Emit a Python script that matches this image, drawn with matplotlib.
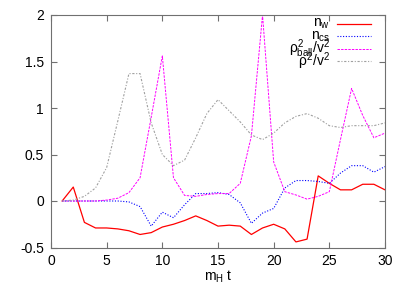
import numpy as np
import matplotlib
matplotlib.use('Agg')
import matplotlib.pyplot as plt
from matplotlib.lines import Line2D

plt.rcParams['font.family'] = ['Liberation Sans', 'DejaVu Sans']
plt.rcParams['mathtext.fontset'] = 'custom'
plt.rcParams['mathtext.rm'] = 'Liberation Sans'
plt.rcParams['mathtext.it'] = 'Liberation Sans'

t = list(range(1, 31))

n_w = [0.0, 0.15, -0.23, -0.29, -0.29, -0.30, -0.32, -0.36, -0.34, -0.28,
       -0.25, -0.21, -0.16, -0.21, -0.27, -0.26, -0.27, -0.36, -0.29, -0.25,
       -0.30, -0.44, -0.41, 0.27, 0.19, 0.12, 0.12, 0.18, 0.18, 0.12]
n_cs = [0.0, 0.0, 0.0, 0.0, 0.0, 0.0, -0.01, -0.06, -0.27, -0.12,
        -0.18, -0.04, 0.08, 0.08, 0.09, 0.07, -0.02, -0.24, -0.13, -0.08,
        0.14, 0.22, 0.22, 0.21, 0.19, 0.30, 0.38, 0.38, 0.31, 0.37]
rho_ball = [0.0, 0.0, 0.0, 0.0, 0.01, 0.03, 0.09, 0.25, 0.9, 1.56,
            0.25, 0.06, 0.05, 0.07, 0.08, 0.08, 0.19, 0.70, 2.0, 0.42,
            0.10, 0.065, 0.02, 0.05, 0.10, 0.66, 1.21, 0.92, 0.68, 0.73]
rho = [0.0, 0.01, 0.05, 0.14, 0.36, 0.86, 1.37, 1.37, 0.84, 0.50,
       0.38, 0.44, 0.68, 0.94, 1.09, 0.97, 0.85, 0.71, 0.66, 0.73,
       0.84, 0.91, 0.94, 0.89, 0.81, 0.79, 0.81, 0.81, 0.81, 0.84]

labels = [r'n$_{\rm w}$', r'n$_{\rm cs}$', r'$\rho^2_{\rm ball}$/v$^2$', r'$\rho^2$/v$^2$']
colors = ['#ff0000', '#0000ff', '#ff00ff', '#a0a0a0']
styles = ['-', (0, (1, 1.5)), (0, (2.5, 1.2)), (0, (2, 1.5, 1, 1.5))]
widths = [0.9, 0.8, 0.7, 0.8]
series = [n_w, n_cs, rho_ball, rho]

W, H = 407, 285
fig = plt.figure(figsize=(W / 100, H / 100), dpi=100)
ax = fig.add_axes([51 / W, 1 - 247.5 / H, (385 - 51) / W, (247.5 - 15) / H])

for ys, c, ls, lw in zip(series, colors, styles, widths):
    ax.plot(t, ys, color=c, lw=lw, ls=ls)

ax.set_xlim(0, 30)
ax.set_ylim(-0.5, 2)
ax.set_xticks([0, 5, 10, 15, 20, 25, 30])
ax.set_yticks([-0.5, 0, 0.5, 1, 1.5, 2])
ax.set_yticklabels(['-0.5', '0', '0.5', '1', '1.5', '2'])
ax.tick_params(direction='in', top=True, right=True, length=4, color='#707070',
               labelsize=10, pad=5)
for s in ax.spines.values():
    s.set_color('#707070')
ax.set_xlabel(r'm$_{\rm H}$ t', fontsize=10, labelpad=0)

# gnuplot style key, text right-aligned left of the sample lines
for i, (lab, c, ls, lw) in enumerate(zip(labels, colors, styles, widths)):
    yp = 1 - (24 + 12.3 * i) / H
    fig.text(330 / W, yp, lab, ha='right', va='center', fontsize=10)
    fig.add_artist(Line2D([337 / W, 371 / W], [yp, yp], color=c, lw=lw, ls=ls,
                          transform=fig.transFigure))

fig.savefig('out.png', dpi=100)
